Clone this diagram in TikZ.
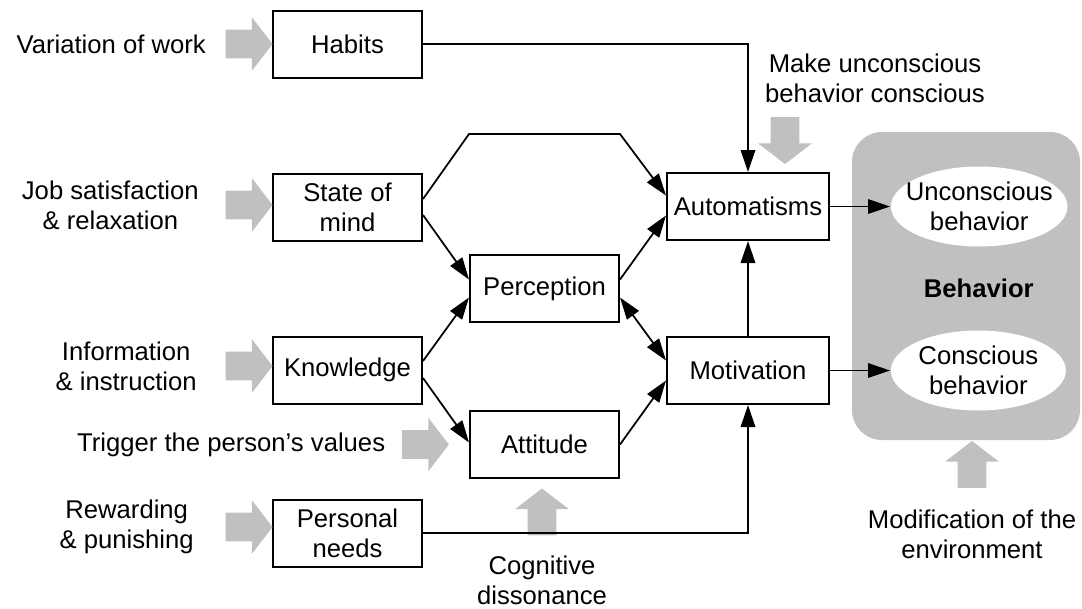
\documentclass[tikz,border=0pt]{standalone}
\usepackage{fontspec}
\setmainfont{Liberation Sans}
\usetikzlibrary{shapes.geometric,shapes.arrows,positioning,arrows.meta,calc}
\definecolor{shade}{RGB}{192,192,192}

\begin{document}
\begin{tikzpicture}[x=0.2mm,y=-0.2mm,
  every node/.style={font=\fontsize{14.6}{17}\selectfont},
  box/.style={draw,line width=0.4mm,minimum width=29.8mm,minimum height=13.4mm,inner sep=0,align=center},
  wbox/.style={box,minimum width=32.4mm},
  oval/.style={ellipse,fill=white,minimum width=35mm,minimum height=16mm,inner xsep=-2.2mm,inner ysep=0,align=center},
  fat/.style={single arrow,fill=shade,minimum height=9.4mm,
    single arrow head extend=2.5mm,single arrow tip angle=105,inner sep=2.7mm},
  lbl/.style={align=center,inner sep=0},
  >={Triangle[length=4.4mm,width=2.9mm]},line width=0.35mm]
\useasboundingbox (0,0) rectangle (1082,608);
\node[fill=shade,rounded corners=6mm,minimum width=45.6mm,minimum height=61.6mm,inner sep=0] (panel) at (966,286) {};
% left column
\node[box] (habits) at (347.5,44) {Habits};
\node[box] (state) [below=18.8mm of habits] {State of\\mind};
\node[box] (know) [below=18.8mm of state] {Knowledge};
\node[box] (needs) [below=18.8mm of know] {Personal\\needs};
% middle
\coordinate (mid) at ($(state.east)!0.5!(know.east)$);
\node[box] (perc) [right=9.2mm of mid] {Perception};
\node[box] (att) [below=17.4mm of perc] {Attitude};
\node[wbox] (auto) [above right=2.6mm and 9.2mm of perc] {Automatisms};
\node[wbox] (motiv) [below right=2.6mm and 9.2mm of perc] {Motivation};
\coordinate[above=24mm of perc.north west] (bendl);
\coordinate[above=24mm of perc.north east] (bendr);
% behavior
\node[oval] (uncon) [right=12mm of auto] {Unconscious\\behavior};
\node[oval] (consc) [right=12mm of motiv] {Conscious\\behavior};
\node[lbl,font=\fontsize{14.6}{17}\selectfont\bfseries] (behlbl) at ($(uncon)!0.5!(consc)$) {Behavior};
% influences
\node[fat] (a1) at (243.5,44) {};
\node[fat] (a2) at (243.5,205) {};
\node[fat] (a3) at (243.5,366) {};
\node[fat] (a4) at (243.5,527) {};
\node[fat] (a5) [left=3.8mm of att] {};
\node[fat,shape border rotate=270] (a6) at (785,135) {};
\node[fat,shape border rotate=90] (a7) at (542,517.5) {};
\node[fat,shape border rotate=90] (a8) at (972,470) {};
\node[lbl] (varw) [left=3.6mm of a1] {Variation of work};
\node[lbl] (jobs) [left=5mm of a2] {Job satisfaction\\\& relaxation};
\node[lbl] (info) [left=5.4mm of a3] {Information\\\& instruction};
\node[lbl] (rewd) [left=6mm of a4] {Rewarding\\\& punishing};
\node[lbl] (trig) [left=3mm of a5] {Trigger the person’s values};
\node[lbl] (mkun) at (875,78) {Make unconscious\\behavior conscious};
\node[lbl] (cogd) at (542,580) {Cognitive\\dissonance};
\node[lbl] (modf) at (972,534) {Modification of the\\environment};
% connectors
\draw[->] (habits) -| (auto);
\draw[->] ([yshift=1.6mm]state.east) -- (bendl) -- (bendr) -- ([yshift=2.2mm]auto.west);
\draw[->] ([yshift=-1.6mm]state.east) -- ([yshift=1.8mm]perc.west);
\draw[->] ([yshift=1.8mm]know.east) -- ([yshift=-1.8mm]perc.west);
\draw[->] ([yshift=-1.6mm]know.east) -- ([yshift=0.4mm]att.west);
\draw[->] ([yshift=1.8mm]perc.east) -- ([yshift=-1.8mm]auto.west);
\draw[<->] ([yshift=-1.8mm]perc.east) -- ([yshift=2mm]motiv.west);
\draw[->] (att.east) -- ([yshift=-2mm]motiv.west);
\draw[->] (motiv) -- (auto);
\draw[->] (needs) -| (motiv);
\draw[->] (auto) -- (uncon);
\draw[->] (motiv) -- (consc);
\end{tikzpicture}
\end{document}
